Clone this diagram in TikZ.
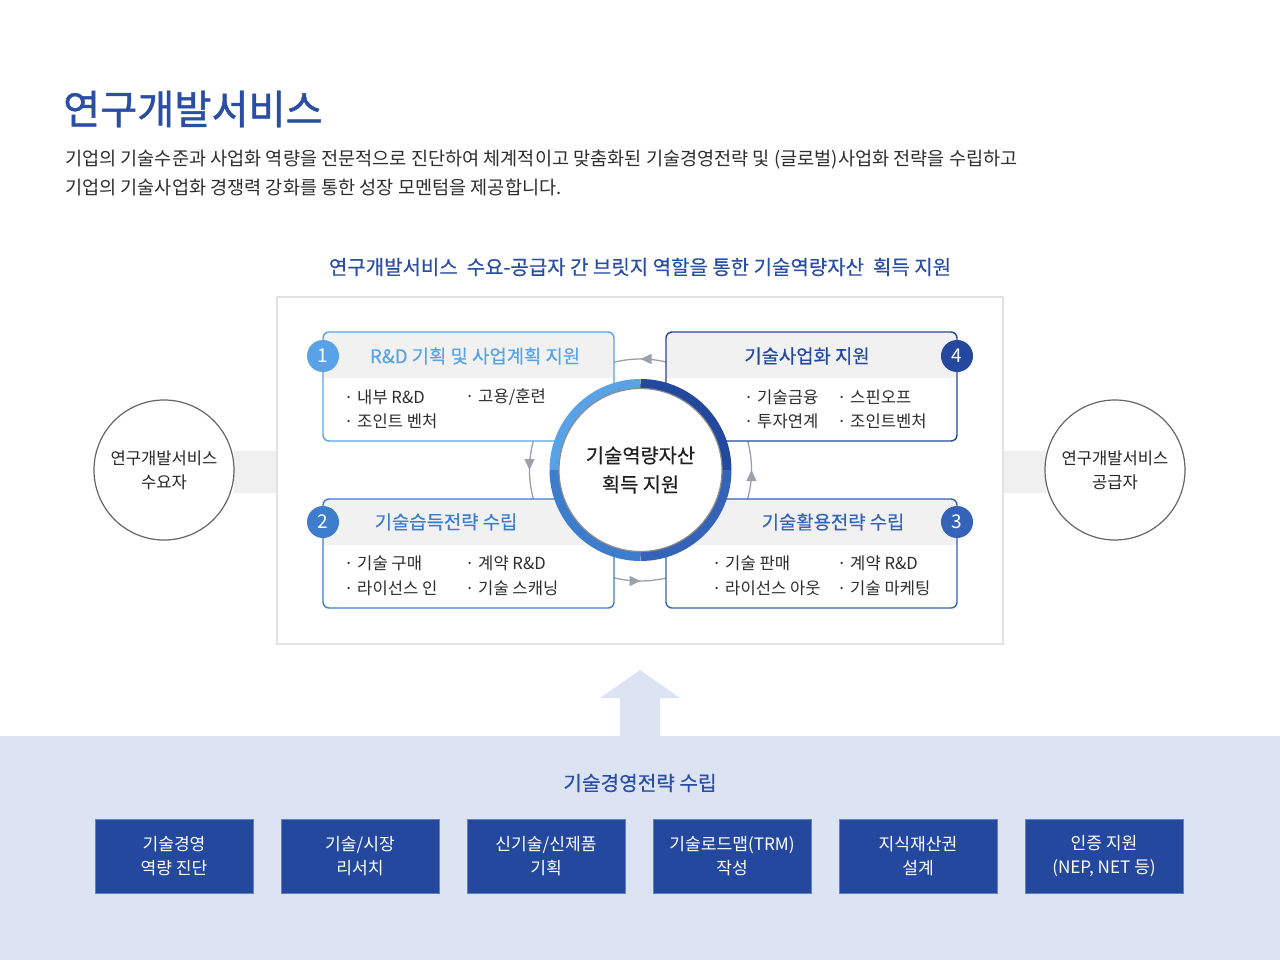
\documentclass[tikz,border=0pt]{standalone}
\usepackage{fontspec}
\setmainfont{Noto Sans CJK KR}
\newfontfamily\kmed[FakeBold=0.4]{Noto Sans CJK KR}
\newfontfamily\ktit[FakeBold=1.2]{Noto Sans CJK KR}
\usetikzlibrary{arrows.meta,decorations.markings,calc}
\definecolor{navy}{HTML}{23489E}
\definecolor{tblue}{HTML}{2A4EA3}
\definecolor{cA}{HTML}{5AA2E6}
\definecolor{cB}{HTML}{3D7DCC}
\definecolor{cC}{HTML}{3563B8}
\definecolor{cD}{HTML}{23489E}
\definecolor{hdr}{HTML}{F1F1F1}
\definecolor{txt}{HTML}{2E2E2E}
\definecolor{bandc}{HTML}{F0F0F0}
\definecolor{lowbg}{HTML}{DCE4F3}
\definecolor{arc}{HTML}{9BA1AA}
\definecolor{frm}{HTML}{E2E2E2}
\tikzset{
  card/.style={draw=#1, line width=1.4pt, rounded corners=6pt, fill=white,
    minimum width=291pt, minimum height=109pt, inner sep=0pt,
    path picture={\fill[hdr, sharp corners] (path picture bounding box.north west) rectangle ([yshift=-46pt]path picture bounding box.north east);}},
  badge/.style={circle, fill=#1, minimum size=32pt, inner sep=0pt, text=white, font=\fontsize{19}{19}\selectfont},
  ctitle/.style={text=#1, font=\kmed\fontsize{18.8}{22}\selectfont},
  item/.style={anchor=west, text=txt, inner sep=0pt, font=\fontsize{16.6}{20}\selectfont},
  sidec/.style={circle, draw=black!60, line width=1.2pt, fill=white, minimum size=140pt, align=center, text=black!85, font=\fontsize{16.6}{24}\selectfont},
  mbox/.style={draw=cC!80, line width=1pt, fill=navy, minimum width=158pt, minimum height=74pt, align=center, text=white, font=\fontsize{17.1}{24}\selectfont},
  cyc/.style={draw=arc, line width=1.3pt, postaction={decorate}, decoration={markings, mark=at position 0.5 with {\arrow{Triangle[length=11pt,width=10pt]}}}, arc},
  ring/.style={line width=9.5pt}
}
\begin{document}
\begin{tikzpicture}[x=1pt,y=-1pt]
\useasboundingbox (0,0) rectangle (1280,960);
\fill[white] (0,0) rectangle (1280,960);
% header
\node[anchor=west, inner sep=0pt, text=tblue, font=\ktit\fontsize{40.3}{42}\selectfont] (title) at (63,109) {연구개발서비스};
\node[anchor=west, inner sep=0pt, text=txt, font=\fontsize{18.6}{20}\selectfont] (d1) at (65,160) {기업의 기술수준과 사업화 역량을 전문적으로 진단하여 체계적이고 맞춤화된 기술경영전략 및 (글로벌)사업화 전략을 수립하고};
\node[anchor=west, inner sep=0pt, text=txt, font=\fontsize{18.6}{20}\selectfont] (d2) at (65,187) {기업의 기술사업화 경쟁력 강화를 통한 성장 모멘텀을 제공합니다.};
\node[inner sep=0pt, text=tblue, font=\kmed\fontsize{20}{22}\selectfont] (sub) at (640,267) {연구개발서비스\ \ 수요-공급자 간 브릿지 역할을 통한 기술역량자산\ \ 획득 지원};
% frame and side bands
\fill[bandc] (234,451) rectangle (278,493);
\fill[bandc] (1002,451) rectangle (1046,493);
\node[draw=frm, line width=1.5pt, fill=white, minimum width=726pt, minimum height=347pt, inner sep=0pt] (frame) at (640,470.5) {};
\node[sidec] (dem) at (164,470) {연구개발서비스\\수요자};
\node[sidec] (sup) at (1115,470) {연구개발서비스\\공급자};
\coordinate (cc) at (640.5,470);
% cycle arcs
\draw[cyc] ([shift={(74:111pt)}]cc) arc[start angle=74, end angle=106, radius=111pt];
\draw[cyc] ([shift={(162:111pt)}]cc) arc[start angle=162, end angle=198, radius=111pt];
\draw[cyc] ([shift={(254:111pt)}]cc) arc[start angle=254, end angle=286, radius=111pt];
\draw[cyc] ([shift={(342:111pt)}]cc) arc[start angle=342, end angle=378, radius=111pt];
% cards
\node[card=cA] (k1) at (468.5,386.5) {};
\node[card=cD] (k4) at (811.5,386.5) {};
\node[card=cB] (k2) at (468.5,553.5) {};
\node[card=cC] (k3) at (811.5,553.5) {};
\node[ctitle=cA] (t1) at (475,356) {R\&D 기획 및 사업계획 지원};
\node[ctitle=cD] (t4) at (807,356) {기술사업화 지원};
\node[ctitle=cB] (t2) at (446,522) {기술습득전략 수립};
\node[ctitle=cC] (t3) at (833,522) {기술활용전략 수립};
\node[item] (i11) at (344,397) {· 내부 R\&D};
\node[item] (i12) at (465,397) {· 고용/훈련};
\node[item] (i13) at (344,421) {· 조인트 벤처};
\node[item] (i41) at (744,397) {· 기술금융};
\node[item] (i42) at (837,397) {· 스핀오프};
\node[item] (i43) at (744,421) {· 투자연계};
\node[item] (i44) at (837,421) {· 조인트벤처};
\node[item] (i21) at (344,563) {· 기술 구매};
\node[item] (i22) at (465,563) {· 계약 R\&D};
\node[item] (i23) at (344,588) {· 라이선스 인};
\node[item] (i24) at (465,588) {· 기술 스캐닝};
\node[item] (i31) at (712,563) {· 기술 판매};
\node[item] (i32) at (837,563) {· 계약 R\&D};
\node[item] (i33) at (712,588) {· 라이선스 아웃};
\node[item] (i34) at (837,588) {· 기술 마케팅};
\node[badge=cA] (b1) at (323,356) {1};
\node[badge=cD] (b4) at (957,356) {4};
\node[badge=cB] (b2) at (323,522) {2};
\node[badge=cC] (b3) at (957,522) {3};
% core ring
\draw[ring, cA] ([shift={(90:86.25pt)}]cc) arc[start angle=90, end angle=180, radius=86.25pt];
\draw[ring, cD] ([shift={(0:86.25pt)}]cc) arc[start angle=0, end angle=90, radius=86.25pt];
\draw[ring, cB] ([shift={(180:86.25pt)}]cc) arc[start angle=180, end angle=270, radius=86.25pt];
\draw[ring, cC] ([shift={(270:86.25pt)}]cc) arc[start angle=270, end angle=360, radius=86.25pt];
\node[circle, draw=black!45, line width=1.2pt, fill=white, minimum size=163pt, inner sep=0pt, align=center, text=black!88, font=\kmed\fontsize{19.8}{29}\selectfont] (core) at (cc) {기술역량자산\\획득 지원};
% lower section
\fill[lowbg] (0,736) rectangle (1280,960);
\fill[lowbg] (620,737) -- (620,698) -- (600,698) -- (640,670) -- (680,698) -- (660,698) -- (660,737) -- cycle;
\node[inner sep=0pt, text=tblue, font=\kmed\fontsize{20.2}{22}\selectfont] (low) at (640,783) {기술경영전략 수립};
\node[mbox] (m1) at (174,856) {기술경영\\역량 진단};
\node[mbox] (m2) at (360,856) {기술/시장\\리서치};
\node[mbox] (m3) at (546,856) {신기술/신제품\\기획};
\node[mbox] (m4) at (732,856) {기술로드맵(TRM)\\작성};
\node[mbox] (m5) at (918,856) {지식재산권\\설계};
\node[mbox] (m6) at (1104,856) {인증 지원\\(NEP, NET 등)};
\end{tikzpicture}
\end{document}
